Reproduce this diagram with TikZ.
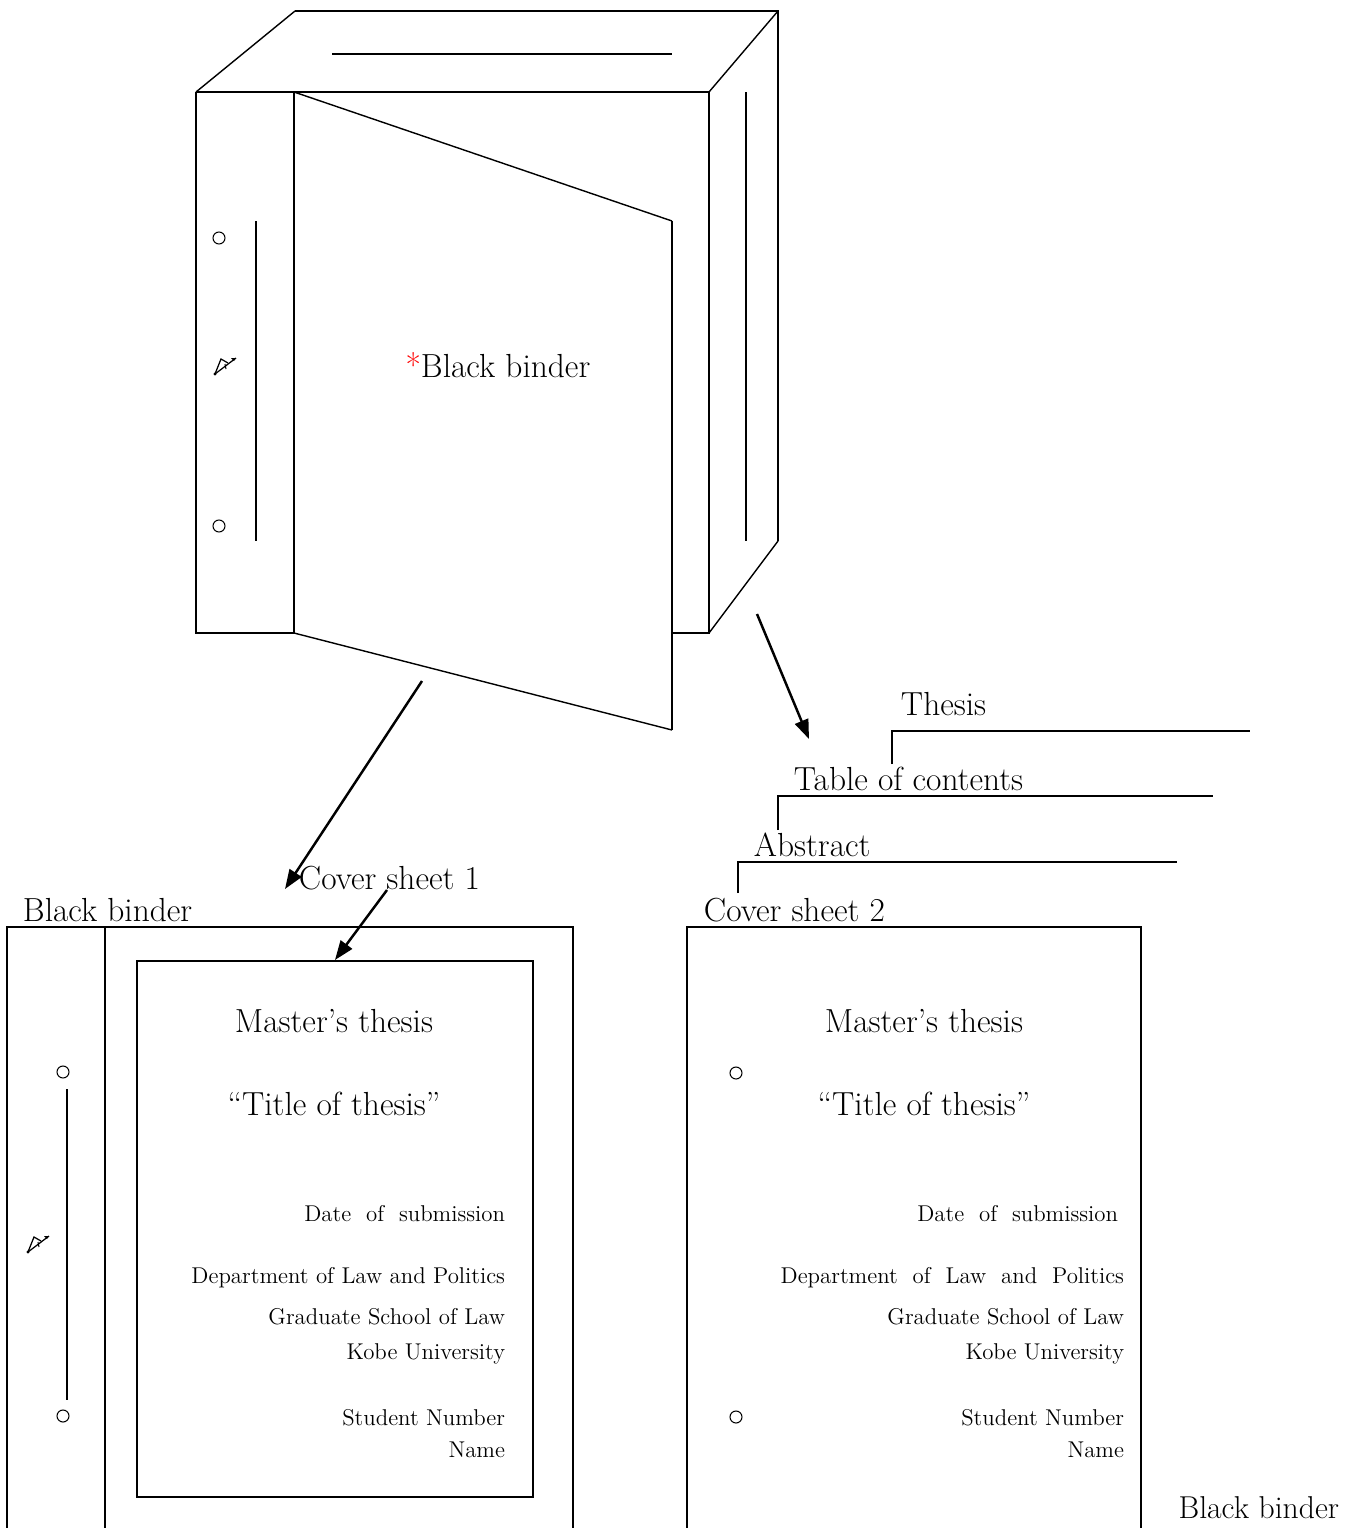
\documentclass[tikz,border=0pt]{standalone}
\usetikzlibrary{arrows.meta}
\begin{document}
\begin{tikzpicture}[x=0.02cm,y=-0.02cm,line width=1.1pt,
  thinl/.style={line width=0.8pt},
  arr/.style={line width=1.4pt,-{Triangle[length=11pt,width=8pt]}},
  big/.style={font=\fontsize{19}{22}\selectfont,inner sep=0pt},
  small/.style={font=\fontsize{13}{15}\selectfont,inner sep=0pt},
  hole/.style={circle,draw,inner sep=0pt,minimum size=0.24cm,line width=0.6pt},
  pen/.pic={
    \draw[line width=0.7pt] (-10,9) -- (11,-7);
    \fill (11,-7) -- (6,-7) -- (9,-4) -- cycle;
    \draw[line width=0.7pt] (-10,9) -- (-4,-6) -- (3,-2);
    \draw[line width=0.6pt] (0,-1) -- (1,4);
    \fill (-10,9) circle[radius=1.6];
  }]
\useasboundingbox (0,0) rectangle (1357,1528);

% ---------- top binder (3D) ----------
\coordinate (tl) at (196,92);
\coordinate (tr) at (709,92);
\coordinate (bl) at (196,633);
\coordinate (br) at (709,633);
\coordinate (sp) at (294,92);
\coordinate (spb) at (294,633);
\coordinate (bt) at (295,11);
\coordinate (btr) at (778,11);
\coordinate (brr) at (778,541);
% top face
\draw[thinl] (tl) -- (bt);
\draw (bt) -- (btr) -- (brr);
\draw[thinl] (btr) -- (tr);
\draw[thinl] (brr) -- (br);
\draw (332,54) -- (672,54);
% front
\draw (tl) -- (tr) -- (br) -- (672,633);
\draw (tl) -- (bl) -- (spb);
\draw (sp) -- (spb);
\draw (746,92) -- (746,541);
% cover flap
\draw[thinl] (sp) -- (672,221);
\draw (672,221) -- (672,730);
\draw[thinl] (spb) -- (672,730);
% spine
\node[hole] (h1) at (219,238) {};
\node[hole] (h2) at (219,526) {};
\draw (256,221) -- (256,541);
\pic at (225,365) {pen};
\node[big,anchor=center] (bb) at (498,365) {{\color{red}*}Black binder};

% ---------- arrows ----------
\coordinate (a1s) at (422,681);
\coordinate (a1e) at (285,889);
\coordinate (a2s) at (757,614);
\coordinate (a2e) at (809,739);
\draw[arr] (a1s) -- (a1e);
\draw[arr] (a2s) -- (a2e);

% ---------- bottom left ----------
\draw (7,1528) -- (7,927) -- (573,927) -- (573,1528);
\draw (105,927) -- (105,1528);
\node[draw,inner sep=0pt,minimum width=396*0.02cm,minimum height=536*0.02cm,anchor=north west] (cs1) at (136,960) {};
\node[hole] (h3) at (63,1072) {};
\node[hole] (h4) at (63,1416) {};
\draw (67,1089) -- (67,1400);
\pic at (38,1243) {pen};
\node[big,anchor=west] (lbb) at (22,910) {Black binder};
\node[big,anchor=west] (lcs1) at (298,878) {Cover sheet 1};
\coordinate (a3s) at (387,890);
\draw[arr] (a3s) -- (cs1.north);

\node[big] (m1) at (334,1021) {Master's thesis};
\node[big] (t1) at (334,1104) {``Title of thesis''};
\node[small,anchor=east] (d1) at (506,1214) {Date\ \ of\ \ submission};
\node[small,anchor=east] (p1) at (506,1278) {Department of Law and Politics};
\node[small,anchor=east] (g1) at (506,1317) {Graduate School of Law};
\node[small,anchor=east] (k1) at (506,1354) {Kobe University};
\node[small,anchor=east] (s1) at (506,1418) {Student Number};
\node[small,anchor=east] (n1) at (506,1450) {Name};

% ---------- bottom right ----------
\draw (687,1528) -- (687,927) -- (1141,927) -- (1141,1528);
\node[hole] (h5) at (736,1073) {};
\node[hole] (h6) at (736,1417) {};
\node[big] (m2) at (924,1021) {Master's thesis};
\node[big] (t2) at (924,1104) {``Title of thesis''};
\node[small,anchor=east] (d2) at (1119,1214) {Date\ \ of\ \ submission};
\node[small,anchor=east] (p2) at (1125,1278) {Department\ \ of\ \ Law\ \ and\ \ Politics};
\node[small,anchor=east] (g2) at (1125,1317) {Graduate School of Law};
\node[small,anchor=east] (k2) at (1125,1354) {Kobe University};
\node[small,anchor=east] (s2) at (1125,1418) {Student Number};
\node[small,anchor=east] (n2) at (1125,1450) {Name};
\node[big,anchor=west] (lcs2) at (703,910) {Cover sheet 2};
\node[big,anchor=east,font=\fontsize{18}{21}\selectfont] (rbb) at (1340,1508) {Black binder};

% stacked sheets
\draw (738,893) -- (738,862) -- (1177,862);
\node[big,anchor=west] (abs) at (753,845) {Abstract};
\draw (778,830) -- (778,796) -- (1213,796);
\node[big,anchor=west] (toc) at (793,779) {Table of contents};
\draw (892,764) -- (892,731) -- (1250,731);
\node[big,anchor=west] (ths) at (900,704) {Thesis};
\end{tikzpicture}
\end{document}
